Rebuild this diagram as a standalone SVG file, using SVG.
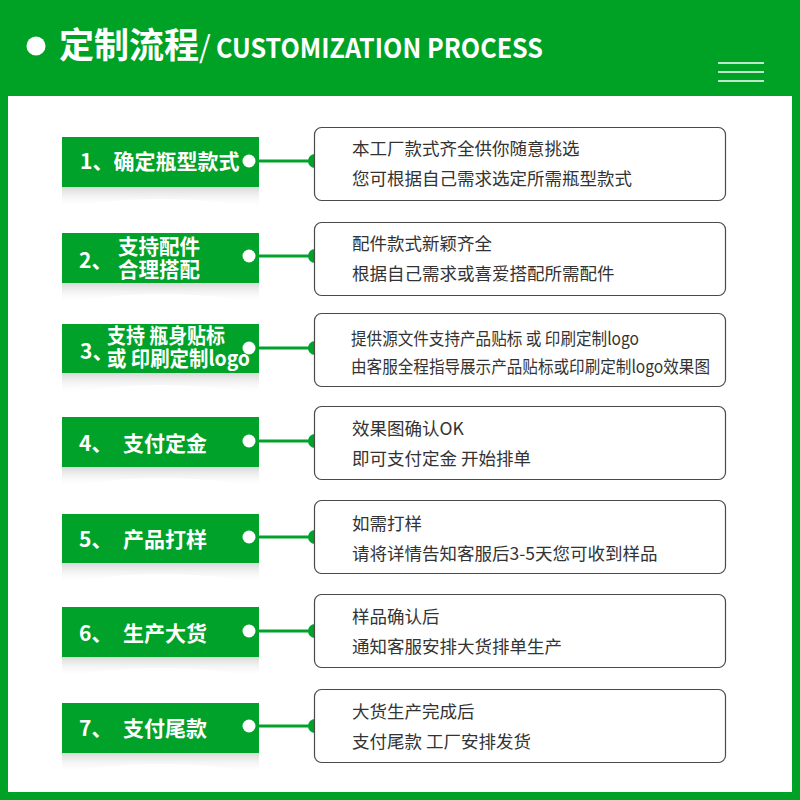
<svg xmlns="http://www.w3.org/2000/svg" width="800" height="800" viewBox="0 0 800 800">
<defs>
<style>
.lbl{fill:#00a22a}
.wd{fill:#fff}
.box{fill:#fff;stroke:#4a4a4a;stroke-width:1.2}
.lt{font-family:"Noto Sans CJK SC","Noto Sans",sans-serif;font-weight:700;fill:#fff;font-size:21px}
.bt{font-family:"Noto Sans CJK SC","Noto Sans",sans-serif;font-weight:400;fill:#333;font-size:17.5px}
.con{stroke:#00a22a;stroke-width:3;fill:none}
.gd{fill:#00a22a}
.sh{fill:url(#shg)}
</style>
<linearGradient id="shg" x1="0" y1="0" x2="0" y2="1">
<stop offset="0" stop-color="#d8d8d8"/>
<stop offset="1" stop-color="#ffffff" stop-opacity="0"/>
</linearGradient>
</defs>
<rect x="0" y="0" width="800" height="800" fill="#00a226"/>
<rect x="8" y="96" width="784" height="696" fill="#fff"/>
<g id="title">
<circle cx="36" cy="46" r="9.5" fill="#fff"/>
<text x="59" y="58" font-family="'Noto Sans CJK SC','Noto Sans',sans-serif" font-weight="700" fill="#fff"><tspan font-size="35">定制流程</tspan><tspan font-size="30" font-weight="400">/</tspan><tspan x="216" font-size="27" textLength="327" lengthAdjust="spacingAndGlyphs">CUSTOMIZATION PROCESS</tspan></text>
<g stroke="#fff" stroke-width="1.5"><line x1="718" y1="63" x2="764" y2="63"/><line x1="718" y1="72" x2="764" y2="72"/><line x1="718" y1="81" x2="764" y2="81"/></g>
</g>

<g id="connectors">
<line class="con" x1="259" y1="161" x2="315" y2="161"/><circle class="gd" cx="315" cy="161" r="7"/>
<line class="con" x1="259" y1="256" x2="315" y2="256"/><circle class="gd" cx="315" cy="256" r="7"/>
<line class="con" x1="259" y1="348" x2="315" y2="348"/><circle class="gd" cx="315" cy="348" r="7"/>
<line class="con" x1="259" y1="441" x2="315" y2="441"/><circle class="gd" cx="315" cy="441" r="7"/>
<line class="con" x1="259" y1="537" x2="315" y2="537"/><circle class="gd" cx="315" cy="537" r="7"/>
<line class="con" x1="259" y1="631" x2="315" y2="631"/><circle class="gd" cx="315" cy="631" r="7"/>
<line class="con" x1="259" y1="726" x2="315" y2="726"/><circle class="gd" cx="315" cy="726" r="7"/>
</g>

<g id="step1">
<path class="sh" d="M62 187 H259 V208 Q160 190 62 208 Z"/>
<rect class="lbl" x="62" y="137" width="197" height="50"/>
<circle class="wd" cx="249" cy="161" r="6.5"/>
<text class="lt" x="80" y="169">1、确定瓶型款式</text>
</g>
<g id="detail1">
<rect class="box" x="314.5" y="127.5" width="411" height="73" rx="7"/>
<text class="bt" x="352" y="155">本工厂款式齐全供你随意挑选</text>
<text class="bt" x="352" y="185">您可根据自己需求选定所需瓶型款式</text>
</g>

<g id="step2">
<path class="sh" d="M62 283 H259 V303 Q160 285 62 303 Z"/>
<rect class="lbl" x="62" y="233" width="197" height="50"/>
<circle class="wd" cx="249" cy="256" r="6.5"/>
<text class="lt" x="79" y="268">2、</text>
<text class="lt" x="118" y="254" font-size="19.5" textLength="82" lengthAdjust="spacingAndGlyphs">支持配件</text>
<text class="lt" x="118" y="277" font-size="19.5" textLength="82" lengthAdjust="spacingAndGlyphs">合理搭配</text>
</g>
<g id="detail2">
<rect class="box" x="314.5" y="222.5" width="411" height="73" rx="7"/>
<text class="bt" x="352" y="250">配件款式新颖齐全</text>
<text class="bt" x="352" y="280">根据自己需求或喜爱搭配所需配件</text>
</g>

<g id="step3">
<path class="sh" d="M62 373 H259 V394 Q160 376 62 394 Z"/>
<rect class="lbl" x="62" y="324" width="197" height="49"/>
<circle class="wd" cx="249" cy="348" r="6.5"/>
<text class="lt" x="80" y="359">3、</text>
<text class="lt" x="107" y="343" font-size="18.5" textLength="118" lengthAdjust="spacingAndGlyphs">支持 瓶身贴标</text>
<text class="lt" x="107" y="366" font-size="18.5" textLength="143" lengthAdjust="spacingAndGlyphs">或 印刷定制logo</text>
</g>
<g id="detail3">
<rect class="box" x="314.5" y="313.5" width="411" height="73" rx="7"/>
<text class="bt" x="351" y="345" font-size="16" textLength="288" lengthAdjust="spacingAndGlyphs">提供源文件支持产品贴标 或 印刷定制logo</text>
<text class="bt" x="351" y="373" font-size="16" textLength="359" lengthAdjust="spacingAndGlyphs">由客服全程指导展示产品贴标或印刷定制logo效果图</text>
</g>

<g id="step4">
<path class="sh" d="M62 467 H259 V487 Q160 469 62 487 Z"/>
<rect class="lbl" x="62" y="417" width="197" height="50"/>
<circle class="wd" cx="249" cy="441" r="6.5"/>
<text class="lt" x="79" y="451">4、</text>
<text class="lt" x="123" y="451">支付定金</text>
</g>
<g id="detail4">
<rect class="box" x="314.5" y="406.5" width="411" height="73" rx="7"/>
<text class="bt" x="352" y="435">效果图确认OK</text>
<text class="bt" x="352" y="465">即可支付定金 开始排单</text>
</g>

<g id="step5">
<path class="sh" d="M62 563 H259 V583 Q160 565 62 583 Z"/>
<rect class="lbl" x="62" y="514" width="197" height="49"/>
<circle class="wd" cx="249" cy="537" r="6.5"/>
<text class="lt" x="79" y="547">5、</text>
<text class="lt" x="123" y="547">产品打样</text>
</g>
<g id="detail5">
<rect class="box" x="314.5" y="500.5" width="411" height="73" rx="7"/>
<text class="bt" x="352" y="530">如需打样</text>
<text class="bt" x="352" y="560">请将详情告知客服后3-5天您可收到样品</text>
</g>

<g id="step6">
<path class="sh" d="M62 657 H259 V677 Q160 659 62 677 Z"/>
<rect class="lbl" x="62" y="607" width="197" height="50"/>
<circle class="wd" cx="249" cy="631" r="6.5"/>
<text class="lt" x="79" y="641">6、</text>
<text class="lt" x="123" y="641">生产大货</text>
</g>
<g id="detail6">
<rect class="box" x="314.5" y="594.5" width="411" height="73" rx="7"/>
<text class="bt" x="352" y="623">样品确认后</text>
<text class="bt" x="352" y="653">通知客服安排大货排单生产</text>
</g>

<g id="step7">
<path class="sh" d="M62 753 H259 V773 Q160 755 62 773 Z"/>
<rect class="lbl" x="62" y="703" width="197" height="50"/>
<circle class="wd" cx="249" cy="726" r="6.5"/>
<text class="lt" x="79" y="736">7、</text>
<text class="lt" x="123" y="736">支付尾款</text>
</g>
<g id="detail7">
<rect class="box" x="314.5" y="689.5" width="411" height="73" rx="7"/>
<text class="bt" x="352" y="718">大货生产完成后</text>
<text class="bt" x="352" y="748">支付尾款 工厂安排发货</text>
</g>
</svg>
